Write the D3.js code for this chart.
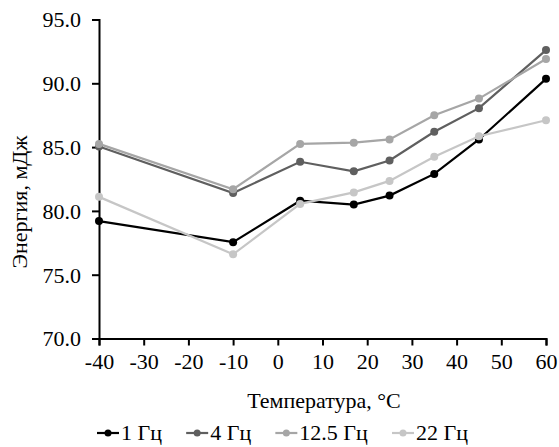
<!DOCTYPE html>
<html><head><meta charset="utf-8">
<script src="https://cdn.jsdelivr.net/npm/d3@7"></script>
<style>
html,body{margin:0;padding:0;background:#fff;}
svg{display:block;}
svg text{font-family:"Liberation Serif","Times New Roman",serif !important;fill:#000;}
</style></head>
<body><svg id="c" width="559" height="447"></svg>
<script>
const temperatures = [-40, -10, 5, 17, 25, 35, 45, 60];
const seriesNames = ["1 Гц", "4 Гц", "12.5 Гц", "22 Гц"];
const s1 = [79.2, 77.55, 80.8, 80.5, 81.2, 82.9, 85.6, 90.35];
const s4 = [85.05, 81.4, 83.85, 83.1, 83.95, 86.2, 88.05, 92.6];
const s125 = [85.25, 81.7, 85.25, 85.35, 85.6, 87.5, 88.8, 91.9];
const s22 = [81.1, 76.6, 80.55, 81.45, 82.35, 84.25, 85.85, 87.1];
const xTicks = [-40, -30, -20, -10, 0, 10, 20, 30, 40, 50, 60];
const yTicks = [70, 75, 80, 85, 90, 95];
const colors = ["#000000", "#5f5f5f", "#a6a6a6", "#c6c6c6"];
const values = [s1, s4, s125, s22];

const FS = 22;
const svg = d3.select("#c");
const x = d3.scaleLinear().domain([-40, 60]).range([99, 546]);
const y = d3.scaleLinear().domain([70, 95]).range([338.5, 19.5]);

// axes
const yAxis = d3.axisLeft(y).tickValues(yTicks).tickFormat(d3.format(".1f")).tickSizeOuter(0).tickSize(7).tickPadding(11);
const gy = svg.append("g").attr("transform", "translate(99,0)").call(yAxis);
gy.selectAll("path,line").attr("stroke", "#000").attr("stroke-width", 2);
gy.selectAll("text").attr("font-size", FS).attr("dy", "0.34em");

const xAxis = d3.axisBottom(x).tickValues(xTicks).tickFormat(d => String(d)).tickSizeOuter(0).tickSize(7).tickPadding(8);
const gx = svg.append("g").attr("transform", "translate(0,338.5)").call(xAxis);
gx.selectAll("path,line").attr("stroke", "#000").attr("stroke-width", 2);
gx.selectAll("text").attr("font-size", FS);

// lines
const line = d3.line().x((d, i) => x(temperatures[i])).y(d => y(d));
values.forEach((vals, k) => {
  const g = svg.append("g");
  g.append("path").datum(vals).attr("d", line).attr("fill", "none")
    .attr("stroke", colors[k]).attr("stroke-width", 2.2);
  g.selectAll("circle").data(vals).join("circle")
    .attr("cx", (d, i) => x(temperatures[i])).attr("cy", d => y(d))
    .attr("r", 4).attr("fill", colors[k]);
});

// axis titles
svg.append("text").attr("x", 324).attr("y", 408).attr("text-anchor", "middle")
  .attr("font-size", FS).text("Температура, °C");
svg.append("text").attr("transform", "translate(27,202) rotate(-90)").attr("text-anchor", "middle")
  .attr("font-size", FS).text("Энергия, мДж");

// legend (laid out from measured text widths, spanning ~97..468)
const legStart = 97, legEnd = 468, mW = 22, tGap = 2;
const items = seriesNames.map((n, k) => {
  const g = svg.append("g");
  g.append("line").attr("x1", 0).attr("x2", mW).attr("y1", 0).attr("y2", 0)
    .attr("stroke", colors[k]).attr("stroke-width", 2.2);
  g.append("circle").attr("cx", mW / 2).attr("cy", 0).attr("r", 3.5).attr("fill", colors[k]);
  const t = g.append("text").attr("x", mW + tGap).attr("y", 7).attr("font-size", FS).text(n);
  return {g, w: mW + tGap + t.node().getComputedTextLength()};
});
const totalW = d3.sum(items, d => d.w);
const gap = (legEnd - legStart - totalW) / (items.length - 1);
let cx = legStart;
items.forEach(it => {
  it.g.attr("transform", `translate(${cx},433)`);
  cx += it.w + gap;
});
</script></body></html>
